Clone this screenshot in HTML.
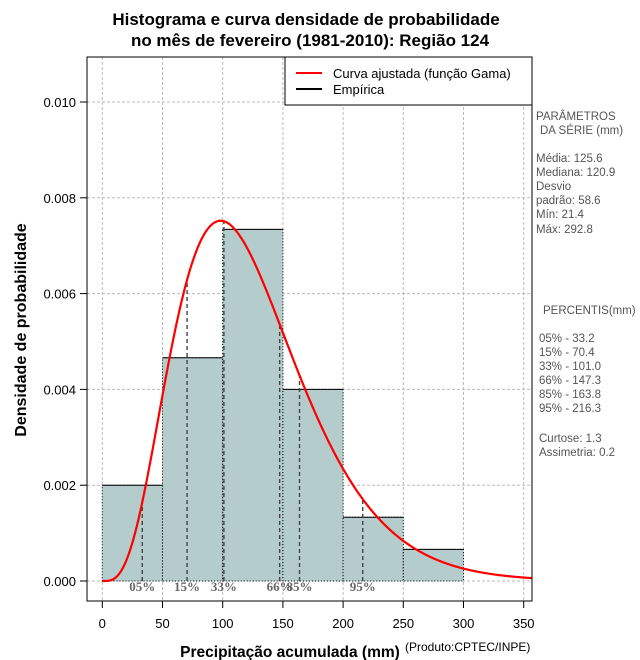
<!DOCTYPE html>
<html><head><meta charset="utf-8"><style>
body{margin:0;background:#fff;}
svg{font-family:"Liberation Sans",sans-serif;display:block}
</style></head><body>
<svg id="chart" width="640" height="660" viewBox="0 0 640 660" xmlns="http://www.w3.org/2000/svg">
<rect width="640" height="660" fill="#fff"/>
<text x="306" y="25" text-anchor="middle" font-size="17" font-weight="bold">Histograma e curva densidade de probabilidade</text>
<text x="310" y="46" text-anchor="middle" font-size="17" font-weight="bold">no mês de fevereiro (1981-2010): Região 124</text>
<g id="grid"></g>
<g id="bars"></g>
<g id="pct"></g>
<path id="curve" fill="none" stroke="#ff0000" stroke-width="2.2"/>
<rect x="87" y="57" width="445" height="544" fill="none" stroke="#000" stroke-width="1"/>
<g id="axes"></g>
<text x="290" y="657" text-anchor="middle" font-size="15.5" font-weight="bold">Precipitação acumulada (mm)</text>
<text x="405" y="651" font-size="12">(Produto:CPTEC/INPE)</text>
<text transform="translate(26,330) rotate(-90)" text-anchor="middle" font-size="16" font-weight="bold">Densidade de probabilidade</text>
<g>
<rect x="285" y="57" width="247" height="48" fill="#fff" stroke="#000"/>
<line x1="296" y1="73" x2="322" y2="73" stroke="#ff0000" stroke-width="2"/>
<text x="333" y="78" font-size="13">Curva ajustada (função Gama)</text>
<line x1="296" y1="89" x2="322" y2="89" stroke="#000" stroke-width="2"/>
<text x="333" y="94" font-size="13">Empírica</text>
</g>
<g font-size="11.5" fill="#555">
<text x="536" y="120">PARÂMETROS</text>
<text x="540" y="134">DA SÉRIE (mm)</text>
<text x="536" y="162">Média:  125.6</text>
<text x="536" y="176">Mediana:  120.9</text>
<text x="536" y="190">Desvio</text>
<text x="536" y="204">padrão:  58.6</text>
<text x="536" y="218">Mín:  21.4</text>
<text x="536" y="233">Máx:  292.8</text>
<text x="543" y="314">PERCENTIS(mm)</text>
<text x="539" y="342">05% -  33.2</text>
<text x="539" y="356">15% -  70.4</text>
<text x="539" y="370">33% - 101.0</text>
<text x="539" y="384">66% - 147.3</text>
<text x="539" y="398">85% - 163.8</text>
<text x="539" y="412">95% - 216.3</text>
<text x="539" y="442">Curtose:  1.3</text>
<text x="539" y="456">Assimetria:  0.2</text>
</g>
</svg>
<script>
const binEdges=[0,50,100,150,200,250,300];
const binDensity=[0.002,0.00466,0.00734,0.004,0.00133,0.00066];
const gammaMean=[125.6];
const gammaSd=[58.6];
const pctValues=[33.2,70.4,101.0,147.3,163.8,216.3];
const pctLabels=["05%","15%","33%","66%","85%","95%"];
const xTicks=[0,50,100,150,200,250,300,350];
const yTicks=[0,0.002,0.004,0.006,0.008,0.010];
const yTickLabels=["0.000","0.002","0.004","0.006","0.008","0.010"];
const NS="http://www.w3.org/2000/svg";
const X=v=>102.3+v*1.204;
const Y=v=>581-v*47.9e3;
function mk(tag,at,parent){const e=document.createElementNS(NS,tag);for(const k in at)e.setAttribute(k,at[k]);parent.appendChild(e);return e;}
const k=Math.pow(gammaMean[0]/gammaSd[0],2), th=gammaSd[0]*gammaSd[0]/gammaMean[0];
function lgam(z){const c=[76.18009172947146,-86.50532032941677,24.01409824083091,-1.231739572450155,0.1208650973866179e-2,-0.5395239384953e-5];let x=z,y=z,t=x+5.5;t-=(x+0.5)*Math.log(t);let s=1.000000000190015;for(let j=0;j<6;j++)s+=c[j]/++y;return -t+Math.log(2.5066282746310005*s/x);}
const dens=x=>x<=0?0:Math.exp((k-1)*Math.log(x)-x/th-lgam(k)-k*Math.log(th));
const grid=document.getElementById('grid'),bars=document.getElementById('bars'),pct=document.getElementById('pct'),axes=document.getElementById('axes');
xTicks.forEach(t=>{const l=mk('line',{x1:X(t),x2:X(t),y1:57,y2:601,stroke:'#bbb','stroke-dasharray':'3,2'},grid);

mk('line',{x1:X(t),x2:X(t),y1:601,y2:608,stroke:'#000'},axes);
const tx=mk('text',{x:X(t),y:628,'text-anchor':'middle','font-size':13},axes);tx.textContent=t;
});
yTicks.forEach((t,i)=>{const l=mk('line',{x1:87,x2:532,y1:Y(t),y2:Y(t),stroke:'#bbb','stroke-dasharray':'3,2'},grid);

mk('line',{x1:80,x2:87,y1:Y(t),y2:Y(t),stroke:'#000'},axes);
const tx=mk('text',{x:76,y:Y(t)+5,'text-anchor':'end','font-size':13},axes);tx.textContent=yTickLabels[i];
});
binDensity.forEach((d,i)=>{const x0=X(binEdges[i]),x1=X(binEdges[i+1]);
const r=mk('rect',{x:x0,y:Y(d),width:x1-x0,height:Y(0)-Y(d),fill:'#b4cccc',stroke:'#000','stroke-dasharray':'1,2','stroke-width':1},bars);

mk('line',{x1:x0,x2:x1,y1:Y(d),y2:Y(d),stroke:'#000','stroke-width':1},bars);});
pctValues.forEach((p,i)=>{const l=mk('line',{x1:X(p),x2:X(p),y1:Y(0),y2:Y(dens(p)),stroke:'#444','stroke-dasharray':'4,3','stroke-width':1.4},pct);

const t=mk('text',{x:X(p),y:591,'text-anchor':'middle','font-size':13,'font-weight':'bold',fill:'#666','font-family':'Liberation Serif, serif'},pct);t.textContent=pctLabels[i];
});
let d='';for(let x=0;x<=357.5;x+=1){d+=(x?'L':'M')+X(x).toFixed(2)+','+Y(dens(x)).toFixed(2);}
document.getElementById('curve').setAttribute('d',d);
</script>
</body></html>
